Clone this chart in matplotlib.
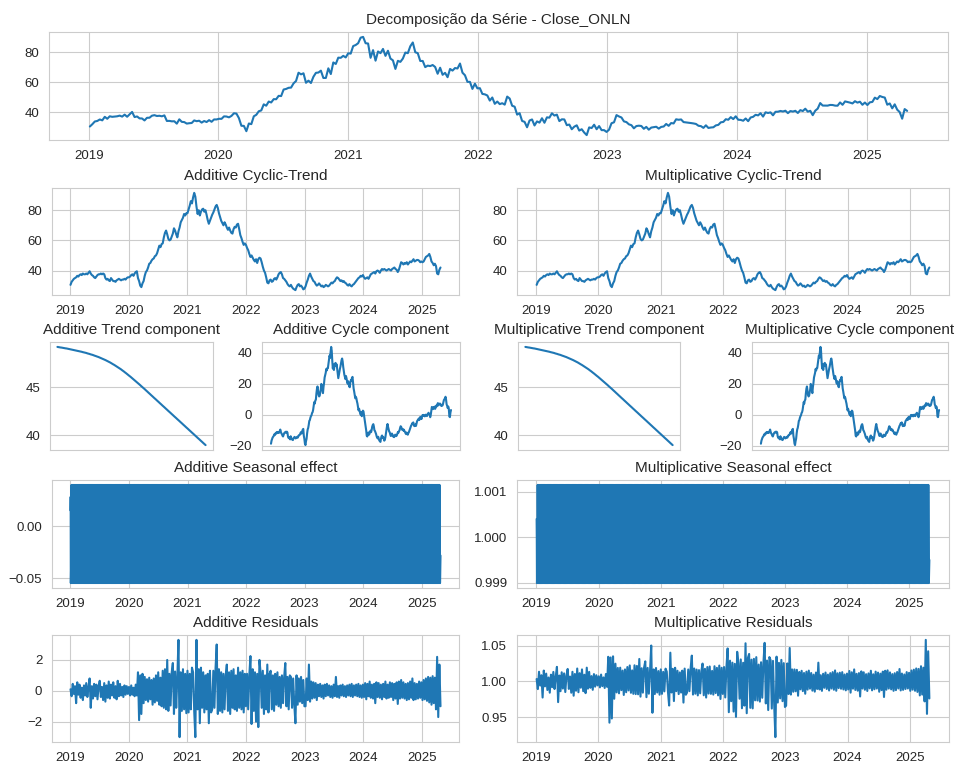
import numpy as np
import pandas as pd
import matplotlib
matplotlib.use("Agg")
import matplotlib.pyplot as plt
import matplotlib.dates as mdates
import seaborn as sns

# weekly cyclic-trend level of Close_ONLN (Fridays, 2019-01-04 .. 2025-04-25), one row per year
cyc_trend = (
    [30.5, 32.5, 33.5, 34.5, 35.0, 35.5, 36.5, 36.0, 37.0, 37.5, 37.0, 38.0, 37.5,
     37.5, 38.0, 37.5, 38.5, 39.5, 38.0, 37.0, 36.5, 35.5, 35.0, 36.0, 37.0, 37.5,
     37.5, 38.0, 37.5, 38.0, 37.5, 35.0, 34.0, 34.5, 33.5, 33.0, 35.0, 34.0, 33.0,
     33.0, 32.5, 33.5, 34.0, 34.5, 34.0, 33.5, 34.0, 34.0, 34.5, 34.0, 35.0, 35.5] +
    [35.5, 36.0, 37.0, 37.5, 36.5, 38.0, 39.0, 39.5, 35.0, 33.0, 30.0, 29.0, 31.5,
     33.0, 36.5, 39.0, 40.0, 42.0, 44.5, 45.0, 46.5, 47.5, 48.0, 49.5, 50.0, 51.5,
     54.0, 56.5, 55.5, 57.5, 58.0, 62.0, 65.0, 66.5, 64.0, 61.0, 60.0, 60.5, 62.5,
     64.5, 68.0, 66.5, 64.0, 62.0, 66.0, 68.5, 72.0, 73.5, 75.0, 77.5, 76.5, 78.0] +
    [78.0, 80.5, 83.0, 86.0, 84.5, 88.5, 91.5, 89.0, 82.5, 77.5, 80.0, 76.5, 79.0,
     80.5, 81.0, 79.0, 80.0, 77.0, 73.5, 71.0, 73.0, 75.0, 77.0, 78.5, 80.5, 82.5,
     83.5, 81.5, 78.0, 75.5, 73.0, 71.5, 70.0, 72.0, 70.5, 68.5, 67.0, 68.5, 66.5,
     65.0, 64.5, 67.5, 69.0, 68.5, 70.5, 71.0, 67.5, 63.5, 61.5, 59.0, 57.0, 58.0, 57.0] +
    [55.0, 53.5, 51.0, 49.0, 50.0, 48.5, 47.0, 46.0, 47.5, 45.0, 47.5, 48.5, 48.0,
     45.5, 42.5, 40.0, 38.5, 35.5, 32.0, 31.5, 33.5, 34.0, 32.5, 33.0, 34.5, 35.0,
     34.0, 35.5, 37.5, 38.5, 39.0, 37.5, 35.0, 34.5, 33.5, 32.5, 31.0, 30.0, 29.5,
     30.5, 29.0, 28.0, 27.5, 27.0, 29.0, 30.5, 31.0, 29.5, 30.0, 29.0, 27.5, 28.0] +
    [29.5, 32.0, 34.0, 36.5, 38.0, 36.0, 34.5, 33.0, 32.5, 31.0, 30.0, 30.5, 31.5,
     30.5, 29.5, 30.0, 29.0, 29.5, 30.5, 30.0, 29.5, 30.0, 31.0, 32.0, 31.5, 32.5,
     33.0, 34.5, 35.5, 35.0, 34.0, 33.0, 33.5, 32.5, 33.0, 32.0, 31.5, 30.5, 30.0,
     31.0, 30.0, 29.5, 30.5, 31.0, 32.0, 33.0, 34.0, 35.0, 35.5, 36.5, 36.0, 37.0] +
    [35.5, 34.5, 35.0, 35.5, 34.5, 36.0, 37.5, 38.0, 38.5, 39.0, 38.0, 39.5, 40.0,
     39.5, 38.5, 40.0, 41.0, 40.5, 41.0, 40.5, 40.0, 40.5, 41.0, 40.5, 40.0, 41.0,
     41.5, 42.0, 41.0, 40.5, 39.0, 40.5, 43.0, 45.5, 45.0, 44.0, 45.0, 44.5, 45.5,
     44.0, 45.0, 46.0, 45.5, 46.5, 47.5, 46.0, 46.5, 47.0, 47.0, 46.5, 45.5, 46.0] +
    [45.5, 46.0, 47.5, 49.0, 49.5, 50.0, 51.0, 49.0, 46.0, 45.0, 43.5, 44.5, 43.0,
     38.0, 37.5, 40.5, 42.0]
)

# long-run trend, same weekly dates
trend = (
    [49.20, 49.19, 49.18, 49.18, 49.17, 49.16, 49.15, 49.14, 49.14, 49.13, 49.12, 49.11, 49.10,
     49.10, 49.09, 49.08, 49.07, 49.06, 49.05, 49.05, 49.04, 49.03, 49.02, 49.01, 49.00, 48.99,
     48.98, 48.97, 48.96, 48.95, 48.94, 48.93, 48.92, 48.91, 48.90, 48.89, 48.88, 48.87, 48.86,
     48.85, 48.84, 48.83, 48.82, 48.80, 48.79, 48.78, 48.77, 48.76, 48.75, 48.74, 48.73, 48.72] +
    [48.71, 48.70, 48.69, 48.67, 48.66, 48.65, 48.64, 48.63, 48.61, 48.60, 48.59, 48.58, 48.57,
     48.55, 48.54, 48.52, 48.51, 48.49, 48.48, 48.47, 48.45, 48.44, 48.42, 48.41, 48.40, 48.38,
     48.37, 48.35, 48.34, 48.32, 48.30, 48.28, 48.27, 48.25, 48.23, 48.22, 48.20, 48.18, 48.17,
     48.15, 48.13, 48.11, 48.09, 48.07, 48.05, 48.03, 48.01, 47.99, 47.97, 47.95, 47.93, 47.91] +
    [47.89, 47.87, 47.84, 47.82, 47.79, 47.77, 47.75, 47.72, 47.70, 47.67, 47.65, 47.63, 47.60,
     47.58, 47.55, 47.52, 47.50, 47.47, 47.44, 47.41, 47.38, 47.36, 47.33, 47.30, 47.27, 47.24,
     47.22, 47.19, 47.15, 47.12, 47.09, 47.06, 47.03, 46.99, 46.96, 46.93, 46.90, 46.87, 46.83,
     46.80, 46.76, 46.73, 46.69, 46.66, 46.62, 46.58, 46.55, 46.51, 46.48, 46.44, 46.40, 46.37,
     46.33] +
    [46.29, 46.25, 46.21, 46.17, 46.14, 46.10, 46.06, 46.02, 45.98, 45.94, 45.90, 45.86,
     45.82, 45.78, 45.74, 45.70, 45.66, 45.62, 45.57, 45.53, 45.49, 45.45, 45.41, 45.37, 45.33,
     45.29, 45.25, 45.21, 45.16, 45.12, 45.08, 45.04, 45.00, 44.95, 44.91, 44.87, 44.83, 44.79,
     44.74, 44.70, 44.66, 44.61, 44.57, 44.53, 44.48, 44.44, 44.40, 44.35, 44.31, 44.27, 44.22,
     44.18] +
    [44.14, 44.09, 44.05, 44.01, 43.96, 43.92, 43.88, 43.84, 43.79, 43.75, 43.71, 43.66, 43.62,
     43.58, 43.53, 43.49, 43.45, 43.40, 43.36, 43.32, 43.27, 43.23, 43.19, 43.14, 43.10, 43.06,
     43.02, 42.97, 42.93, 42.89, 42.84, 42.80, 42.76, 42.71, 42.67, 42.63, 42.58, 42.54, 42.50,
     42.46, 42.41, 42.37, 42.33, 42.28, 42.24, 42.20, 42.15, 42.11, 42.07, 42.02, 41.98, 41.94] +
    [41.90, 41.85, 41.81, 41.77, 41.72, 41.68, 41.64, 41.60, 41.55, 41.51, 41.47, 41.42, 41.38,
     41.34, 41.29, 41.25, 41.21, 41.16, 41.12, 41.08, 41.03, 40.99, 40.95, 40.90, 40.86, 40.82,
     40.78, 40.73, 40.69, 40.65, 40.60, 40.56, 40.52, 40.47, 40.43, 40.39, 40.34, 40.30, 40.26,
     40.22, 40.17, 40.13, 40.09, 40.04, 40.00, 39.96, 39.91, 39.87, 39.83, 39.78, 39.74, 39.70] +
    [39.66, 39.61, 39.57, 39.53, 39.48, 39.44, 39.40, 39.35, 39.31, 39.27, 39.22, 39.18, 39.14,
     39.10, 39.05, 39.01, 38.97]
)

# additive residuals, same weekly dates
resid_add = (
    [0.10, -0.35, 0.45, -0.20, 0.30, -0.80, 0.55, -0.25, 0.40, -0.45, 0.20, -0.60, 0.35,
     -0.30, 0.50, -0.40, 0.25, 0.80, -1.10, 0.30, -0.50, 0.45, -0.35, 0.40, -0.55, 0.30,
     0.65, -0.40, 0.25, -0.60, 0.50, -0.70, 0.35, -0.45, 0.60, -0.50, 0.40, -0.30, 0.55,
     -0.45, 0.30, -0.55, 0.65, -0.35, 0.45, -0.30, 0.25, -0.40, 0.35, -0.25, 0.30, -0.20] +
    [0.25, -0.30, 0.35, -0.25, 0.20, -0.35, 0.40, -0.30, 1.20, -1.90, 1.00, -1.50, 1.10,
     -0.80, 0.90, -0.60, 0.75, -0.70, 0.85, -0.55, 0.70, -0.90, 0.80, -0.75, 1.00, -0.65,
     1.20, -0.90, 0.85, -1.00, 1.30, -1.10, 1.40, -1.20, 2.00, -1.30, 1.10, -0.95, 1.20,
     1.80, -1.50, 1.25, -1.10, 0.90, 3.30, -3.00, 1.20, -1.30, 1.40, -1.20, 1.10, -1.45] +
    [1.30, -1.40, 1.10, -1.20, 1.50, 1.20, -1.30, -3.00, 3.30, -1.20, 1.40, -2.10, 1.50,
     -1.10, 1.20, -1.40, 1.00, -1.20, 1.10, -2.10, 1.30, -1.40, -1.20, 1.30, -1.10, 1.50,
     3.00, -1.50, 1.40, -1.30, 1.20, -1.40, 1.10, -1.20, 1.00, 1.70, -1.30, 1.20, -1.50,
     1.30, -1.10, 1.40, -1.20, 1.00, -1.30, 1.50, -1.10, 1.20, -1.20, 1.30, -1.40, 1.10, -1.00] +
    [1.10, -1.20, 1.00, 2.25, -2.15, 1.40, -1.30, 1.20, -2.00, 1.10, -2.35, 2.00, 1.20,
     -1.10, 1.30, -1.50, 1.00, -1.20, 1.70, -1.40, 1.10, 1.30, -1.20, 1.00, -1.30, 1.10,
     -0.90, 1.20, -1.00, 0.90, -1.10, 1.00, -0.80, 0.90, 1.80, -1.00, 0.90, -1.20, 1.00,
     0.90, -1.10, 0.80, -0.90, -2.10, 1.00, -0.90, 0.80, -0.70, 0.90, -0.80, 0.70, -1.00] +
    [-1.00, 0.80, -0.60, 1.70, -0.70, 0.60, -0.50, 0.55, -0.45, 0.50, -0.60, 0.40, -0.35,
     0.45, -0.40, 0.35, -0.50, 0.40, -0.35, 0.45, -0.30, 0.35, -0.40, 0.30, -0.45, 0.40,
     -0.35, 0.90, -0.40, 0.30, -0.45, 0.35, -0.30, 0.40, -0.35, 0.30, -0.40, 0.35, -0.30,
     0.40, -0.35, 0.45, -0.40, 0.35, -0.30, 0.40, -0.35, 0.45, -0.40, 0.35, -0.45, 0.40] +
    [-0.40, 0.50, -0.55, 0.45, -0.35, 0.60, -0.45, 0.40, -0.50, 0.45, -0.80, 0.55, -0.40,
     0.50, -0.45, 0.40, -0.55, 0.45, -0.40, 0.60, -0.50, 0.40, -0.45, 0.55, -0.40, 0.50,
     -0.60, 0.45, -0.50, 0.55, -0.85, 0.60, -0.50, 0.70, -0.45, 0.55, -0.50, 0.45, -0.60,
     0.50, -0.55, 0.60, -0.45, 0.80, -0.60, 0.50, -0.55, 0.45, -0.50, 0.60, -0.45, 0.55] +
    [-0.60, 0.70, -0.55, 0.80, -0.65, 0.90, -0.75, 0.85, -0.90, 0.95, -0.80, 0.85, -1.20,
     2.20, -1.70, 1.70, -1.00]
)

# one business-week cycle of the seasonal effect
season_add = [0.0397, 0.0152, 0.0282, -0.0548, -0.0283]
season_mul = [1.00115, 1.0004, 0.99996, 0.99899, 0.9995]

weeks = pd.date_range("2019-01-04", periods=len(cyc_trend), freq="W-FRI")
days = pd.bdate_range("2019-01-02", "2025-04-28")

ct = np.array(cyc_trend)
tr = np.array(trend)
ra = np.array(resid_add)
cycle = ct - tr
close = ct + ra
resid_mul = 1 + ra / ct
phase = (np.arange(len(days)) - len(days) + 5) % 5
seas_add = np.array(season_add)[phase]
seas_mul = np.array(season_mul)[phase]

sns.set_style("whitegrid")
plt.rcParams["font.family"] = ["Liberation Sans", "DejaVu Sans"]
plt.rcParams["axes.titlesize"] = 11
plt.rcParams["xtick.labelsize"] = 9.5
plt.rcParams["ytick.labelsize"] = 9.5

W, H = 979.0, 763.0
fig = plt.figure(figsize=(W / 100, H / 100), dpi=100)


def box(x0, y0, x1, y1):
    # axes placed by pixel box: left, top, right, bottom
    return fig.add_axes([x0 / W, 1 - y1 / H, (x1 - x0) / W, (y1 - y0) / H])


def years(ax):
    ax.xaxis.set_major_locator(mdates.YearLocator())
    ax.xaxis.set_major_formatter(mdates.DateFormatter("%Y"))


ax = box(49, 32, 948, 140)
ax.plot(weeks, close)
ax.set_title("Decomposição da Série - Close_ONLN")
years(ax)

for x0, x1, label in [(52, 459, "Additive"), (517, 949, "Multiplicative")]:
    ax = box(x0, 188, x1, 295)
    ax.plot(weeks, ct)
    ax.set_title(label + " Cyclic-Trend")
    years(ax)

for x0, x1, x2, x3, label in [(50, 213, 262, 460, "Additive"),
                              (518, 680, 752, 948, "Multiplicative")]:
    ax = box(x0, 342, x1, 450)
    ax.plot(weeks, tr)
    ax.set_title(label + " Trend component")
    ax.set_xticks([])
    ax = box(x2, 342, x3, 450)
    ax.plot(weeks, cycle)
    ax.set_title(label + " Cycle component")
    ax.set_xticks([])

ax = box(52, 480, 459, 588)
ax.plot(days, seas_add)
ax.set_title("Additive Seasonal effect")
years(ax)

ax = box(517, 480, 949, 588)
ax.plot(days, seas_mul)
ax.set_title("Multiplicative Seasonal effect")
ax.ticklabel_format(axis="y", useOffset=False)
years(ax)

ax = box(52, 635, 459, 742)
ax.plot(weeks, ra)
ax.set_title("Additive Residuals")
years(ax)

ax = box(517, 635, 949, 742)
ax.plot(weeks, resid_mul)
ax.set_title("Multiplicative Residuals")
years(ax)

fig.savefig("out.png", dpi=100)
